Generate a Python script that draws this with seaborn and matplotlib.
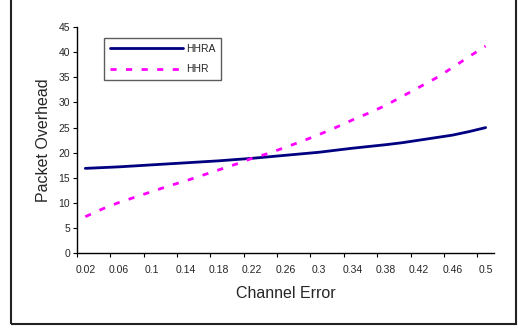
import pandas as pd
import seaborn as sns
import matplotlib.pyplot as plt
from matplotlib.patches import Rectangle

sns.set_style("white")
plt.rcParams["font.family"] = ["Liberation Sans", "DejaVu Sans"]

channel_error = ["0.02", "0.04", "0.06", "0.08", "0.1", "0.12", "0.14", "0.16", "0.18",
                 "0.2", "0.22", "0.24", "0.26", "0.28", "0.3", "0.32", "0.34", "0.36",
                 "0.38", "0.4", "0.42", "0.44", "0.46", "0.48", "0.5"]
hhra = [16.9, 17.05, 17.2, 17.4, 17.6, 17.8, 18.0, 18.2, 18.4, 18.65, 18.9, 19.2, 19.5,
        19.8, 20.1, 20.5, 20.9, 21.25, 21.6, 22.0, 22.5, 23.0, 23.5, 24.2, 25.0]
hhr = [7.3, 8.8, 10.1, 11.2, 12.3, 13.4, 14.4, 15.5, 16.6, 17.7, 18.9, 19.9, 21.1,
       22.3, 23.6, 25.0, 26.5, 27.9, 29.4, 31.2, 33.0, 34.8, 36.9, 39.1, 41.2]

df = pd.DataFrame({"idx": range(len(channel_error)), "HHRA": hhra, "HHR": hhr})

fig = plt.figure(figsize=(5.18, 3.33), dpi=100)
ax = fig.add_axes([0.1486, 0.239, 0.805, 0.680])

sns.lineplot(data=df, x="idx", y="HHRA", ax=ax, color="#000080", linewidth=2.0,
             label="HHRA")
sns.lineplot(data=df, x="idx", y="HHR", ax=ax, color="#ff00ff", linewidth=2.0,
             dashes=False, label="HHR")
ax.lines[1].set_dashes((2.2, 3.4))

n = len(channel_error)
ax.set_xlim(-0.5, n - 0.5)
ax.set_ylim(0, 45)
ax.set_yticks(range(0, 46, 5))
ax.set_xticks([i - 0.5 for i in range(0, n, 2)])
ax.set_xticklabels([])
ax.set_xticks(list(range(0, n, 2)), minor=True)
ax.set_xticklabels(channel_error[::2], minor=True)
ax.tick_params(axis="x", which="minor", length=0, pad=8, labelsize=7.5)
ax.tick_params(axis="x", which="major", direction="out", length=3, width=0.8, color="black")
ax.tick_params(axis="y", direction="out", length=3, width=0.8, color="black", labelsize=7.5, pad=2)
ax.tick_params(bottom=True, left=True)

for s in ["top", "right"]:
    ax.spines[s].set_visible(False)
for s in ["left", "bottom"]:
    ax.spines[s].set_color("black")
    ax.spines[s].set_linewidth(1.0)

ax.set_xlabel("Channel Error", fontsize=11.5, labelpad=8)
ax.set_ylabel("Packet Overhead", fontsize=11.5, labelpad=5)

leg = ax.legend(loc="upper left", bbox_to_anchor=(0.065, 0.951), borderaxespad=0,
                fontsize=7.5, handlelength=7.0, handletextpad=0.3, frameon=True,
                fancybox=False, shadow=False, borderpad=0.55, labelspacing=1.0)
leg.get_frame().set_edgecolor("#333333")
leg.get_frame().set_linewidth(1.0)

fig.add_artist(Rectangle((11 / 518, 9 / 333), 505 / 518, 1.1, transform=fig.transFigure,
                         fill=False, edgecolor="#222222", linewidth=1.5))

fig.savefig("out.png", dpi=100)
